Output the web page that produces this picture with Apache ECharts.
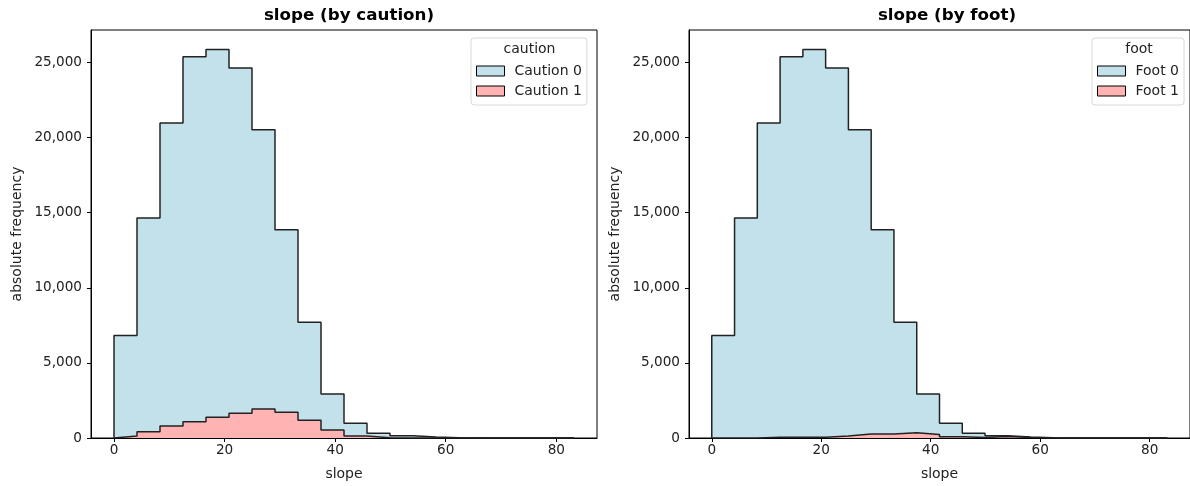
<!DOCTYPE html>
<html>
<head>
<meta charset="utf-8">
<script src="https://cdn.jsdelivr.net/npm/echarts@6/dist/echarts.min.js"></script>
<style>
  html, body { margin: 0; padding: 0; background: #fff; }
  #chart { width: 1190px; height: 486px; }
</style>
</head>
<body>
<div id="chart"></div>
<script>
// ---- data ----
const slopeMin = 0;
const slopeMax = 83.2;
const binCount = 20;
const caution0 = [6690, 14230, 20180, 24290, 24490, 23000, 18600, 12160, 6530, 2400, 840, 300, 145, 60, 15, 6, 3, 1, 0, 1];
const caution1 = [130, 420, 800, 1090, 1380, 1640, 1930, 1710, 1180, 530, 140, 20, 5, 0, 0, 0, 0, 0, 0, 0];
const foot0 = [6820, 14650, 20930, 25330, 25820, 24510, 20270, 13610, 7360, 2690, 890, 290, 50, 20, 15, 6, 3, 1, 0, 1];
const foot1 = [0, 0, 50, 50, 50, 130, 260, 260, 350, 240, 90, 30, 100, 40, 0, 0, 0, 0, 0, 0];
const xTicks = [0, 20, 40, 60, 80];
const yTicks = [0, 5000, 10000, 15000, 20000, 25000];
const panelTitles = ['slope (by caution)', 'slope (by foot)'];
const legendTitles = ['caution', 'foot'];
const groupNames = [['Caution 0', 'Caution 1'], ['Foot 0', 'Foot 1']];

// ---- build ----
const FONT = 'DejaVu Sans';
const BLUE = '#c2e1eb';
const RED = '#ffb3b3';
const EDGE = '#222';
const binW = (slopeMax - slopeMin) / binCount;
const edges = Array.from({length: binCount + 1}, (_, i) => slopeMin + i * binW);

function stepPoints(vals) {
  const pts = [[edges[0], 0]];
  vals.forEach((v, i) => pts.push([edges[i], v]));
  pts.push([edges[binCount], vals[binCount - 1]]);
  pts.push([edges[binCount], 0]);
  return pts;
}
const sum = (a, b) => a.map((v, i) => v + b[i]);

const panels = [
  {low: caution1, high: caution0},
  {low: foot1, high: foot0}
];
const gridLefts = [91, 689];
const gridW = 506;
const gridTop = 30, gridBottom = 48;
const yMax = Math.max(...sum(caution0, caution1)) * 1.05;
const xPad = (slopeMax - slopeMin) * 0.05;

const grids = [], xAxes = [], yAxes = [], series = [], titles = [], legends = [], graphics = [];
panels.forEach((p, k) => {
  grids.push({left: gridLefts[k], top: gridTop, width: gridW, bottom: gridBottom,
    show: true, borderColor: '#000', borderWidth: 1, backgroundColor: 'transparent', containLabel: false});
  xAxes.push({type: 'value', gridIndex: k, min: slopeMin - xPad, max: slopeMax + xPad,
    name: 'slope', nameLocation: 'middle', nameGap: 29,
    nameTextStyle: {fontFamily: FONT, fontSize: 14, color: '#222'},
    axisLine: {show: true, onZero: false, lineStyle: {color: '#000', width: 1}},
    axisTick: {show: true, length: 4, lineStyle: {color: '#000'}, customValues: xTicks},
    axisLabel: {show: true, fontFamily: FONT, fontSize: 13.6, color: '#222', margin: 5, customValues: xTicks},
    splitLine: {show: false}});
  yAxes.push({type: 'value', gridIndex: k, min: 0, max: yMax,
    name: 'absolute frequency', nameLocation: 'middle', nameGap: 67,
    nameTextStyle: {fontFamily: FONT, fontSize: 14, color: '#222'},
    axisLine: {show: true, onZero: false, lineStyle: {color: '#000', width: 1}},
    axisTick: {show: true, length: 4, lineStyle: {color: '#000'}, customValues: yTicks},
    axisLabel: {show: true, fontFamily: FONT, fontSize: 13.6, color: '#222', margin: 9, customValues: yTicks,
      formatter: v => Number(v).toLocaleString('en-US')},
    splitLine: {show: false}});
  const names = groupNames[k];
  series.push({type: 'line', name: names[0], xAxisIndex: k, yAxisIndex: k, step: 'end',
    data: stepPoints(sum(p.high, p.low)), symbol: 'none', silent: true, z: 2,
    color: BLUE,
    lineStyle: {color: EDGE, width: 1.5},
    areaStyle: {color: BLUE, opacity: 1}});
  series.push({type: 'line', name: names[1], xAxisIndex: k, yAxisIndex: k, step: 'end',
    data: stepPoints(p.low), symbol: 'none', silent: true, z: 3,
    color: RED,
    lineStyle: {color: EDGE, width: 1.5},
    areaStyle: {color: RED, opacity: 1}});
  const cx = gridLefts[k] + 253;
  titles.push({text: panelTitles[k], left: cx, top: 2, textAlign: 'center',
    textStyle: {fontFamily: FONT, fontSize: 16.7, fontWeight: 'bold', color: '#000'}});
  const boxLeft = k === 0 ? 471 : 1092;
  const boxCx = k === 0 ? 529.5 : 1139;
  legends.push({orient: 'vertical', left: boxLeft, top: 38,
    data: names.map((n, j) => ({name: n, icon: 'rect',
      itemStyle: {color: j === 0 ? BLUE : RED, borderColor: '#000', borderWidth: 1}})),
    itemWidth: 28, itemHeight: 10, itemGap: 6,
    padding: [26, 5, 7, 5],
    backgroundColor: '#fff', borderColor: '#d8d8d8', borderWidth: 1, borderRadius: 3,
    textStyle: {fontFamily: FONT, fontSize: 14, color: '#222', padding: [0, 0, 0, 5]},
    selectedMode: false});
  graphics.push({type: 'text', x: boxCx, y: 49, z: 100,
    style: {text: legendTitles[k], font: '14px "DejaVu Sans"', fill: '#222',
      textAlign: 'center', textVerticalAlign: 'middle'}});
});

const chart = echarts.init(document.getElementById('chart'), null, {renderer: 'canvas'});
chart.setOption({
  animation: false,
  backgroundColor: '#fff',
  title: titles,
  legend: legends,
  grid: grids,
  xAxis: xAxes,
  yAxis: yAxes,
  series: series,
  graphic: graphics
});
</script>
</body>
</html>
